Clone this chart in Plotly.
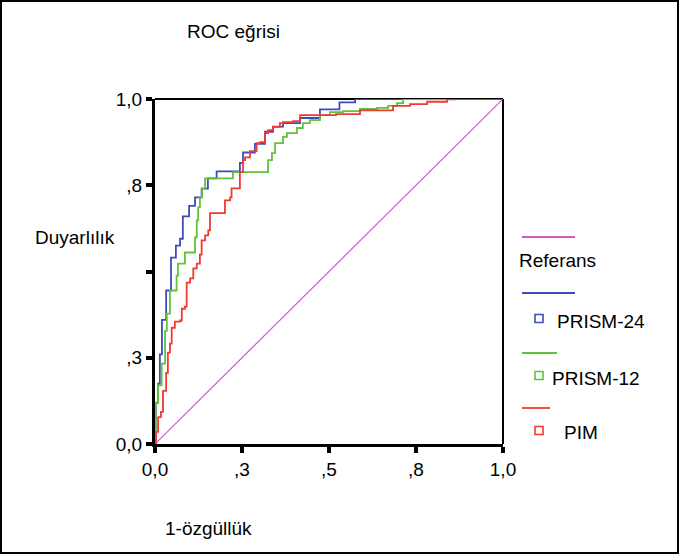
import plotly.graph_objects as go

# ---- data ----
ref_fpr = [0.0, 1.0]
ref_sens = [0.0, 1.0]

prism24_fpr = [0.0, 0.002, 0.009, 0.014, 0.02, 0.032, 0.046, 0.06, 0.072, 0.08, 0.098, 0.115, 0.134,
               0.152, 0.177, 0.221, 0.244, 0.253, 0.287, 0.316, 0.339, 0.368, 0.417, 0.474, 0.53, 0.575, 1.0]
prism24_sens = [0.0, 0.12, 0.175, 0.26, 0.36, 0.445, 0.54, 0.575, 0.595, 0.66, 0.69, 0.715, 0.74,
                0.77, 0.79, 0.79, 0.815, 0.845, 0.87, 0.905, 0.92, 0.93, 0.945, 0.97, 0.99, 1.0, 1.0]

prism12_fpr = [0.0, 0.002, 0.009, 0.019, 0.029, 0.034, 0.043, 0.057, 0.062, 0.066, 0.086, 0.109, 0.115,
               0.12, 0.124, 0.129, 0.135, 0.144, 0.224, 0.316, 0.325, 0.336, 0.345, 0.368, 0.379, 0.408,
               0.425, 0.445, 0.474, 0.503, 0.54, 0.589, 0.638, 0.67, 0.695, 0.713, 1.0]
prism12_sens = [0.0, 0.119, 0.17, 0.233, 0.328, 0.378, 0.445, 0.445, 0.488, 0.523, 0.555, 0.555, 0.599,
                0.648, 0.686, 0.715, 0.741, 0.77, 0.788, 0.788, 0.823, 0.843, 0.872, 0.89, 0.901, 0.916,
                0.93, 0.939, 0.953, 0.962, 0.965, 0.971, 0.974, 0.98, 0.988, 1.0, 1.0]

pim_fpr = [0.0, 0.003, 0.009, 0.017, 0.023, 0.032, 0.037, 0.043, 0.048, 0.057, 0.072, 0.077, 0.086,
           0.091, 0.101, 0.11, 0.12, 0.129, 0.134, 0.144, 0.153, 0.158, 0.192, 0.201, 0.216, 0.22, 0.23,
           0.244, 0.253, 0.259, 0.273, 0.292, 0.302, 0.316, 0.325, 0.339, 0.359, 0.368, 0.397, 0.417,
           0.52, 0.589, 0.684, 0.733, 0.782, 0.839, 0.862, 1.0]
pim_sens = [0.0, 0.035, 0.078, 0.093, 0.154, 0.206, 0.265, 0.291, 0.337, 0.355, 0.358, 0.392, 0.398,
            0.468, 0.48, 0.509, 0.523, 0.549, 0.59, 0.605, 0.619, 0.669, 0.669, 0.706, 0.715, 0.741, 0.741,
            0.788, 0.823, 0.831, 0.849, 0.872, 0.875, 0.901, 0.91, 0.919, 0.93, 0.933, 0.936, 0.953,
            0.956, 0.967, 0.98, 0.985, 0.992, 0.999, 1.0, 1.0]

tick_vals = [0.0, 0.25, 0.5, 0.75, 1.0]
x_tick_text = ["0,0", ",3", ",5", ",8", "1,0"]
y_tick_text = ["0,0", ",3", "", ",8", "1,0"]

series_names = ["Referans", "PRISM-24", "PRISM-12", "PIM"]
series_colors = ["#cc5ccc", "#3f4cb8", "#62c23a", "#f03a34"]

# ---- figure ----
W, H = 679, 554
L, R, T, B = 155, 176, 99, 110
PW, PH = W - L - R, H - T - B
FONT = "Liberation Sans, Arial, sans-serif"
FS = 19


def px_x(px):
    return (px - L) / PW


def px_y(py):
    return (H - B - py) / PH


fig = go.Figure()
fig.add_trace(go.Scatter(x=ref_fpr, y=ref_sens, mode="lines", name=series_names[0],
                         line=dict(color=series_colors[0], width=1.2)))
for name, col, xs, ys in [(series_names[1], series_colors[1], prism24_fpr, prism24_sens),
                          (series_names[2], series_colors[2], prism12_fpr, prism12_sens),
                          (series_names[3], series_colors[3], pim_fpr, pim_sens)]:
    fig.add_trace(go.Scatter(x=xs, y=ys, mode="lines", name=name,
                             line=dict(color=col, width=1.8, shape="hv")))

shapes = []
# plot frame top/right (thin, below traces)
shapes.append(dict(type="line", xref="paper", yref="paper", x0=0, x1=1, y0=1, y1=1,
                   line=dict(color="black", width=2), layer="below"))
shapes.append(dict(type="line", xref="paper", yref="paper", x0=1, x1=1, y0=0, y1=1,
                   line=dict(color="black", width=2), layer="below"))
# outer border
shapes.append(dict(type="rect", xref="paper", yref="paper",
                   x0=px_x(1), x1=px_x(W - 1), y0=px_y(H - 1), y1=px_y(1),
                   line=dict(color="black", width=2)))

# custom legend
leg = [
    # (line y px, line x end px, square y px or None, text, text x px, text y px, colour)
    (237, 575, None, series_names[0], 517, 260, series_colors[0]),
    (293, 575, 318.5, series_names[1], 555, 321, series_colors[1]),
    (353, 557, 375.5, series_names[2], 550, 378, series_colors[2]),
    (408, 550, 430.5, series_names[3], 562, 432, series_colors[3]),
]
annotations = []
for ly, lx1, sy, txt, tx, ty, col in leg:
    shapes.append(dict(type="line", xref="paper", yref="paper", x0=px_x(522), x1=px_x(lx1),
                       y0=px_y(ly), y1=px_y(ly), line=dict(color=col, width=1.8)))
    if sy is not None:
        shapes.append(dict(type="rect", xref="paper", yref="paper",
                           x0=px_x(535), x1=px_x(543), y0=px_y(sy + 4), y1=px_y(sy - 4),
                           line=dict(color=col, width=1.6)))
    annotations.append(dict(text=txt, xref="paper", yref="paper", x=px_x(tx), y=px_y(ty),
                            xanchor="left", yanchor="middle", showarrow=False,
                            font=dict(family=FONT, size=FS, color="black")))

annotations.append(dict(text="ROC eğrisi", xref="paper", yref="paper", x=px_x(185), y=px_y(32),
                        xanchor="left", yanchor="middle", showarrow=False,
                        font=dict(family=FONT, size=FS, color="black")))
annotations.append(dict(text="Duyarlılık", xref="paper", yref="paper", x=px_x(33), y=px_y(237),
                        xanchor="left", yanchor="middle", showarrow=False,
                        font=dict(family=FONT, size=FS, color="black")))
annotations.append(dict(text="1-özgüllük", xref="paper", yref="paper", x=px_x(163), y=px_y(528),
                        xanchor="left", yanchor="middle", showarrow=False,
                        font=dict(family=FONT, size=FS, color="black")))

axis_common = dict(range=[0, 1], showgrid=False, zeroline=False, showline=True,
                   linecolor="black", linewidth=3, ticks="outside", ticklen=6, tickwidth=4,
                   tickcolor="black", tickvals=tick_vals, fixedrange=True,
                   tickfont=dict(family=FONT, size=FS, color="black"))

fig.update_layout(
    width=W, height=H,
    margin=dict(l=L, r=R, t=T, b=B),
    paper_bgcolor="white", plot_bgcolor="white",
    showlegend=False,
    xaxis=dict(ticktext=x_tick_text, **axis_common),
    yaxis=dict(ticktext=y_tick_text, **axis_common),
    shapes=shapes,
    annotations=annotations,
)

fig.write_html("out.html", config={"displayModeBar": False},
               post_script="document.body.style.margin='0';document.body.style.padding='0';")
